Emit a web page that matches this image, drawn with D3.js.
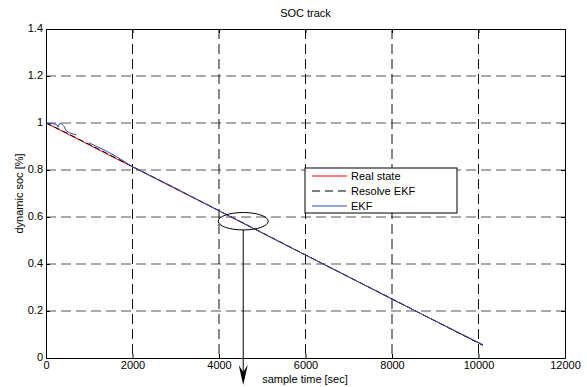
<!DOCTYPE html>
<html>
<head>
<meta charset="utf-8">
<script src="https://cdn.jsdelivr.net/npm/d3@7"></script>
<style>
  body { margin: 0; background: #fff; }
  text { font-family: "Liberation Sans", Arial, sans-serif; }
</style>
</head>
<body>
<div id="chart"></div>
<script>
// data
var realTime = [0, 2000, 4000, 6000, 8000, 10100];
var realSoc = [1.0, 0.813, 0.626, 0.438, 0.251, 0.055];

var resolveTime = [0, 300, 1000, 2000, 3000, 4000, 5000, 6000, 7000, 8000, 9000, 10100];
var resolveSoc = [1.0, 0.974, 0.909, 0.815, 0.721, 0.627, 0.533, 0.439, 0.345, 0.252, 0.157, 0.054];

// NaN = gap in the EKF trace
var ekfTime = [0, 150, 250, 280, 310, 350, 420, 470, 550, 700, 750, 990, 1200, 1400, 1600, 1800, 1950, 3000, 4000, 5000, 6000, 7000, 8000, 9000, 10100];
var ekfSoc = [1.0, 0.997, 0.993, 0.982, 0.997, 0.998, 0.985, 0.966, 0.958, 0.949, NaN, 0.916, 0.898, 0.880, 0.860, 0.838, 0.818, 0.722, 0.627, 0.532, 0.438, 0.345, 0.250, 0.158, 0.057];

var xTicks = [0, 2000, 4000, 6000, 8000, 10000, 12000];
var yTicks = [0, 0.2, 0.4, 0.6, 0.8, 1, 1.2, 1.4];
var legendLabels = ["Real state", "Resolve EKF", "EKF"];

var W = 587, H = 387;
var margin = { top: 29, left: 46, right: 22, bottom: 29 },
    width = W - margin.left - margin.right,
    height = H - margin.top - margin.bottom;

var svg = d3.select("#chart")
    .append("svg")
    .attr("width", W)
    .attr("height", H);

var g = svg.append("g")
    .attr("transform", "translate(" + margin.left + "," + margin.top + ")");

var x = d3.scaleLinear().domain([0, 12000]).range([0, width]);
var y = d3.scaleLinear().domain([0, 1.4]).range([height, 0]);

// grid
g.selectAll(".hgrid")
  .data(yTicks.slice(1, -1))
  .enter().append("line")
  .attr("x1", 0).attr("x2", width)
  .attr("y1", function(d) { return y(d) }).attr("y2", function(d) { return y(d) })
  .attr("stroke", "#555").attr("stroke-width", 1)
  .attr("stroke-dasharray", "10,5");

g.selectAll(".vgrid")
  .data(xTicks.slice(1, -1))
  .enter().append("line")
  .attr("y1", 0).attr("y2", height)
  .attr("x1", function(d) { return x(d) }).attr("x2", function(d) { return x(d) })
  .attr("stroke", "#111").attr("stroke-width", 1)
  .attr("stroke-dasharray", "10,5");

// axes (ticks inside, box all round)
var xAxis = d3.axisBottom(x).tickValues(xTicks).tickSizeInner(-4).tickSizeOuter(0).tickPadding(3)
  .tickFormat(d3.format("d"));
var yAxis = d3.axisLeft(y).tickValues(yTicks).tickSizeInner(-4).tickSizeOuter(0).tickPadding(3)
  .tickFormat(function(d) { return d3.format("")(+d.toFixed(1)) });

g.append("g")
  .attr("class", "axis x-axis")
  .attr("transform", "translate(0," + height + ")")
  .call(xAxis);
g.append("g")
  .attr("class", "axis y-axis")
  .call(yAxis);
g.append("g")
  .call(d3.axisTop(x).tickValues(xTicks).tickSizeInner(-4).tickSizeOuter(0).tickFormat(""));
g.append("g")
  .attr("transform", "translate(" + width + ",0)")
  .call(d3.axisRight(y).tickValues(yTicks).tickSizeInner(-4).tickSizeOuter(0).tickFormat(""));

g.selectAll(".axis text").attr("font-size", 11).attr("fill", "#000");
g.selectAll(".y-axis text").attr("dy", "0.2em");
g.selectAll(".domain").attr("stroke", "#000");
g.selectAll(".tick line").attr("stroke", "#000");

// lines
var line = d3.line()
  .defined(function(d) { return !isNaN(d[1]) })
  .x(function(d) { return x(d[0]) })
  .y(function(d) { return y(d[1]) });

function pairs(t, v) { return t.map(function(d, i) { return [d, v[i]] }) }

g.append("path")
  .datum(pairs(realTime, realSoc))
  .attr("d", line).attr("fill", "none")
  .attr("stroke", "#ff0000").attr("stroke-width", 1);

g.append("path")
  .datum(pairs(resolveTime, resolveSoc))
  .attr("d", line).attr("fill", "none")
  .attr("stroke", "#000").attr("stroke-width", 1)
  .attr("stroke-dasharray", "6,3");

g.append("path")
  .datum(pairs(ekfTime, ekfSoc))
  .attr("d", line).attr("fill", "none")
  .attr("stroke", "#2a4fb5").attr("stroke-width", 1);

// legend
var legend = svg.append("g").attr("transform", "translate(305,168)");
legend.append("rect")
  .attr("width", 152).attr("height", 45)
  .attr("fill", "#fff").attr("stroke", "#000").attr("stroke-width", 1);

var legendStyle = [
  { color: "#ff0000", dash: null },
  { color: "#000", dash: "8,5" },
  { color: "#2a4fb5", dash: null }
];

legendLabels.forEach(function(label, i) {
  var ly = 8 + i * 15;
  legend.append("line")
    .attr("x1", 7).attr("x2", 42)
    .attr("y1", ly).attr("y2", ly)
    .attr("stroke", legendStyle[i].color)
    .attr("stroke-dasharray", legendStyle[i].dash);
  legend.append("text")
    .attr("x", 46).attr("y", ly + 4)
    .attr("font-size", 11)
    .text(label);
});

// title and axis labels
svg.append("text")
  .attr("x", margin.left + width / 2).attr("y", 17)
  .attr("text-anchor", "middle").attr("font-size", 11)
  .text("SOC track");

svg.append("text")
  .attr("x", 305).attr("y", 383)
  .attr("text-anchor", "middle").attr("font-size", 11)
  .text("sample time [sec]");

svg.append("text")
  .attr("transform", "translate(23," + (margin.top + height / 2) + ") rotate(-90)")
  .attr("text-anchor", "middle").attr("font-size", 11)
  .text("dynamic soc [%]");

// callout ellipse and arrow
var ex = x(4560), ey = y(0.582);
g.append("ellipse")
  .attr("cx", ex).attr("cy", ey).attr("rx", 25).attr("ry", 8.7)
  .attr("fill", "none").attr("stroke", "#000");

g.append("line")
  .attr("x1", ex).attr("x2", ex)
  .attr("y1", ey + 8.7).attr("y2", H - margin.top - 6)
  .attr("stroke", "#000");

g.append("path")
  .attr("d", "M" + (ex - 4.5) + "," + (H - margin.top - 22) +
    " L" + ex + "," + (H - margin.top - 2) +
    " L" + (ex + 4.5) + "," + (H - margin.top - 22) +
    " L" + ex + "," + (H - margin.top - 15) + " Z")
  .attr("fill", "#000");
</script>
</body>
</html>
